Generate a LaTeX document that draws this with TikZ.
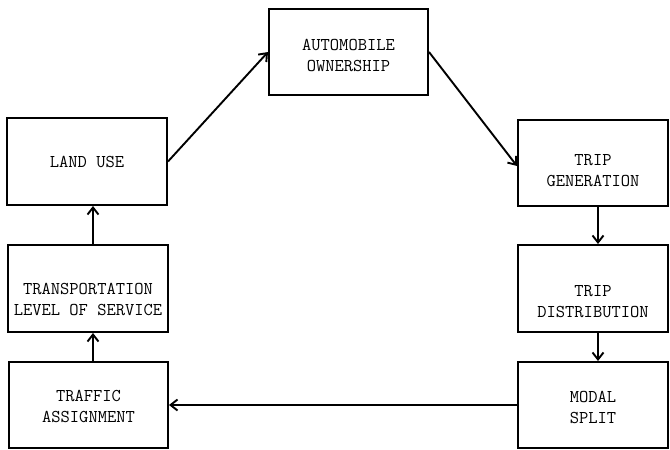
\documentclass[tikz,border=0pt]{standalone}
\usetikzlibrary{arrows.meta}
\begin{document}
\begin{tikzpicture}[x=1pt,y=-1pt,
  box/.style={draw, line width=2pt, inner sep=0pt},
  lbl/.style={align=center, font=\fontsize{18}{21}\selectfont\ttfamily, inner sep=0pt},
  arr/.style={line width=1.9pt, -{Straight Barb[length=7pt,width=11pt,line width=1.9pt]}}]
\useasboundingbox (0,0) rectangle (670,450);
% boxes
\node[box, minimum width=159pt, minimum height=86pt] (auto) at (348.5,52) {};
\node[box, minimum width=160pt, minimum height=87pt] (land) at (87,161.5) {};
\node[box, minimum width=160pt, minimum height=87pt] (trans) at (88,288.5) {};
\node[box, minimum width=159pt, minimum height=86pt] (traffic) at (88.5,405) {};
\node[box, minimum width=150pt, minimum height=86pt] (gen) at (593,163) {};
\node[box, minimum width=150pt, minimum height=87pt] (dist) at (593,288.5) {};
\node[box, minimum width=150pt, minimum height=86pt] (modal) at (593,405) {};
% labels
\node[lbl] (tauto) at ([yshift=-3pt]auto.center) {AUTOMOBILE\\OWNERSHIP};
\node[lbl] (tland) at (land.center) {LAND USE};
\node[lbl] (ttrans) at ([yshift=-11pt]trans.center) {TRANSPORTATION\\LEVEL OF SERVICE};
\node[lbl] (ttraffic) at ([yshift=-1pt]traffic.center) {TRAFFIC\\ASSIGNMENT};
\node[lbl] (tgen) at ([yshift=-8pt]gen.center) {TRIP\\GENERATION};
\node[lbl] (tdist) at ([yshift=-13pt]dist.center) {TRIP\\DISTRIBUTION};
\node[lbl] (tmodal) at ([yshift=-2pt]modal.center) {MODAL\\SPLIT};
% connector columns
\coordinate (xl) at (93,0);
\coordinate (xr) at (598,0);
% connectors
\draw[arr] (land.east) -- (auto.west);
\draw[arr] (auto.east) -- ([yshift=-3pt]gen.west);
\draw[arr] (gen.south -| xr) -- (dist.north -| xr);
\draw[arr] (dist.south -| xr) -- (modal.north -| xr);
\draw[arr] (modal.west) -- (traffic.east);
\draw[arr] (traffic.north -| xl) -- (trans.south -| xl);
\draw[arr] (trans.north -| xl) -- (land.south -| xl);
\end{tikzpicture}
\end{document}
